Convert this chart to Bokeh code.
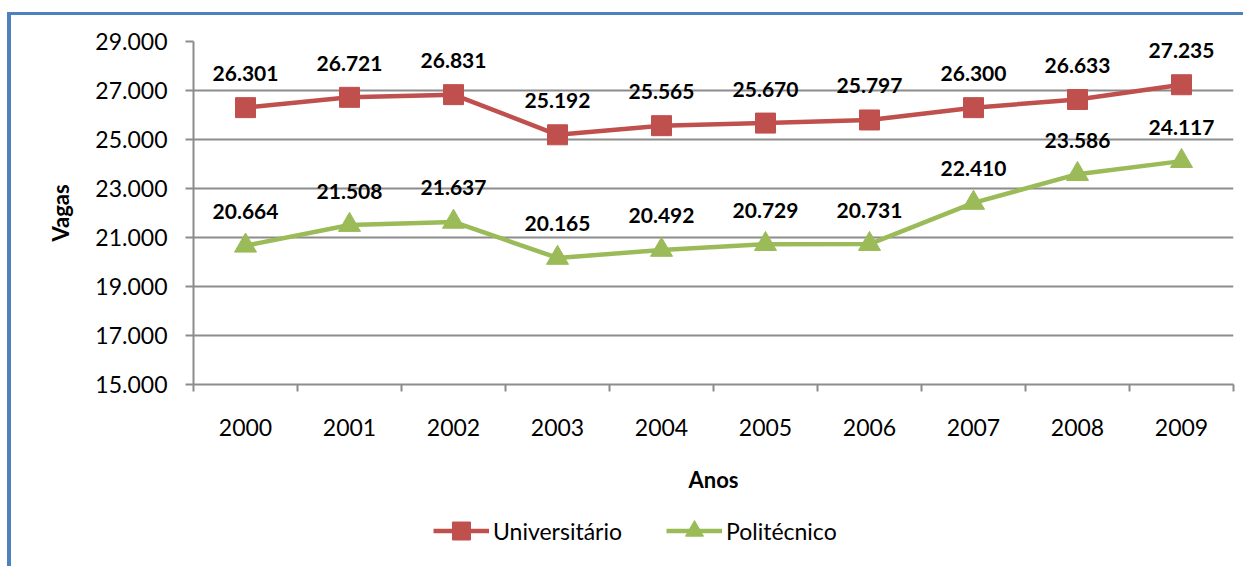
from bokeh.plotting import figure
from bokeh.layouts import column
from bokeh.models import (ColumnDataSource, Range1d, FixedTicker, LabelSet,
                          Legend, LegendItem)
from bokeh.core.properties import value
from bokeh.embed import file_html
from bokeh.resources import INLINE

years = ["2000", "2001", "2002", "2003", "2004", "2005", "2006", "2007", "2008", "2009"]
universitario = [26301, 26721, 26831, 25192, 25565, 25670, 25797, 26300, 26633, 27235]
politecnico = [20664, 21508, 21637, 20165, 20492, 20729, 20731, 22410, 23586, 24117]
y_ticks = [15000, 17000, 19000, 21000, 23000, 25000, 27000, 29000]

FONT = "Lato"
RED = "#C0504D"
GREEN = "#9BBB59"
GRID = "#8C8C8C"


def fmt(v):
    return f"{v:,}".replace(",", ".")


xs = [i + 0.5 for i in range(len(years))]
src_u = ColumnDataSource(dict(x=xs, y=universitario, lab=[fmt(v) for v in universitario]))
src_p = ColumnDataSource(dict(x=xs, y=politecnico, lab=[fmt(v) for v in politecnico]))

p = figure(width=1232, height=490, output_backend="svg", toolbar_location=None,
           x_range=Range1d(0, len(years)), y_range=Range1d(15000, 29000),
           min_border_left=182, min_border_top=26, min_border_right=10, min_border_bottom=121)
p.outline_line_color = None
p.background_fill_color = "white"
p.border_fill_color = "white"

# x axis
p.xaxis.ticker = FixedTicker(ticks=xs, minor_ticks=list(range(len(years) + 1)))
p.xaxis.major_label_overrides = {x: y for x, y in zip(xs, years)}
p.xaxis.major_tick_out = 0
p.xaxis.major_tick_in = 0
p.xaxis.minor_tick_out = 7
p.xaxis.minor_tick_in = 0
p.xaxis.minor_tick_line_color = GRID
p.xaxis.minor_tick_line_width = 2
p.xaxis.axis_line_color = GRID
p.xaxis.axis_line_width = 2
p.xaxis.major_label_text_font = FONT
p.xaxis.major_label_text_font_size = "23px"
p.xaxis.major_label_text_color = "black"
p.xaxis.major_label_standoff = 27
p.xaxis.axis_label = "Anos"
p.xaxis.axis_label_text_font = FONT
p.xaxis.axis_label_text_font_style = "bold"
p.xaxis.axis_label_text_font_size = "22px"
p.xaxis.axis_label_text_color = "black"
p.xaxis.axis_label_standoff = 27
p.xgrid.visible = False

# y axis
p.yaxis.ticker = FixedTicker(ticks=y_ticks)
p.yaxis.major_label_overrides = {t: fmt(t) for t in y_ticks}
p.yaxis.major_tick_out = 8
p.yaxis.major_tick_in = 0
p.yaxis.major_tick_line_color = GRID
p.yaxis.major_tick_line_width = 2
p.yaxis.minor_tick_line_color = None
p.yaxis.axis_line_color = GRID
p.yaxis.axis_line_width = 2
p.yaxis.major_label_text_font = FONT
p.yaxis.major_label_text_font_size = "23px"
p.yaxis.major_label_text_color = "black"
p.yaxis.major_label_standoff = 18
p.yaxis.axis_label = "Vagas"
p.yaxis.axis_label_text_font = FONT
p.yaxis.axis_label_text_font_style = "bold"
p.yaxis.axis_label_text_font_size = "22px"
p.yaxis.axis_label_text_color = "black"
p.yaxis.axis_label_standoff = 18
p.ygrid.ticker = FixedTicker(ticks=y_ticks)
p.ygrid.grid_line_color = GRID
p.ygrid.grid_line_width = 2

# series
p.line("x", "y", source=src_u, line_color=RED, line_width=4.5)
p.scatter("x", "y", source=src_u, marker="square", size=20, fill_color=RED, line_color=RED)
p.line("x", "y", source=src_p, line_color=GREEN, line_width=4.5)
p.scatter("x", "y", source=src_p, marker="triangle", size=22, fill_color=GREEN, line_color=GREEN)

for s in (src_u, src_p):
    p.add_layout(LabelSet(x="x", y="y", text="lab", source=s, y_offset=34,
                          text_align="center", text_baseline="middle",
                          text_font=value(FONT), text_font_style="bold",
                          text_font_size="21px", text_color="black"))

# legend strip below the chart (same series, out of this strip's view)
q = figure(width=1232, height=61, output_backend="svg", toolbar_location=None,
           x_range=Range1d(0, 1), y_range=Range1d(0, 1),
           x_axis_type=None, y_axis_type=None, min_border=0)
q.outline_line_color = None
q.background_fill_color = "white"
q.border_fill_color = "white"
qlu = q.line("x", "y", source=src_u, line_color=RED, line_width=4.5)
qmu = q.scatter("x", "y", source=src_u, marker="square", size=20,
                fill_color=RED, line_color=RED)
qlp = q.line("x", "y", source=src_p, line_color=GREEN, line_width=4.5)
qmp = q.scatter("x", "y", source=src_p, marker="triangle", size=22,
                fill_color=GREEN, line_color=GREEN)
legend = Legend(items=[LegendItem(label="Universitário", renderers=[qlu, qmu]),
                       LegendItem(label="Politécnico", renderers=[qlp, qmp])],
                orientation="horizontal", location=(240, 13),
                label_text_font=FONT, label_text_font_size="23px",
                label_text_color="black",
                glyph_width=56, glyph_height=45, spacing=44, label_standoff=4,
                padding=0, margin=0, border_line_color=None,
                background_fill_alpha=0)
q.add_layout(legend, "center")

layout = column(p, q, spacing=0,
                styles={"border-left": "4px solid #4F81BD", "border-top": "3px solid #4F81BD",
                        "margin-left": "7px", "margin-top": "12px"})

open("out.html", "w").write(file_html(layout, INLINE))
